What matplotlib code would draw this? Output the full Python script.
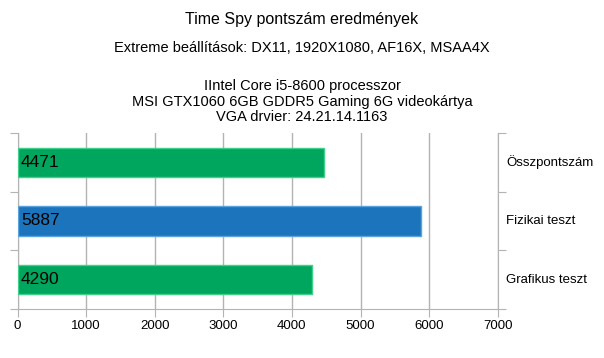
import matplotlib.pyplot as plt

plt.rcParams['font.family'] = ['Liberation Sans', 'DejaVu Sans']

categories = ['Grafikus teszt', 'Fizikai teszt', 'Összpontszám']
values = [4290, 5887, 4471]
colors = ['#00a65d', '#1c75bc', '#00a65d']
edges = ['#3fd08a', '#5aa3e0', '#3fd08a']
xticks = [0, 1000, 2000, 3000, 4000, 5000, 6000, 7000]

fig = plt.figure(figsize=(6.04, 3.58), dpi=100)
ax = fig.add_axes([0.029, 0.137, 0.795, 0.4915])

pos = range(len(categories))
ax.barh(pos, values, height=0.5, color=colors, edgecolor=edges, linewidth=1, zorder=3)
for p, v in zip(pos, values):
    ax.text(50, p, str(v), va='center', ha='left', fontsize=12.5, color='black', zorder=4)

ax.set_xlim(0, 7000)
ax.set_ylim(-0.5, 2.5)
ax.set_xticks(xticks)
ax.set_xticklabels([str(t) for t in xticks], fontsize=9.5)
ax.xaxis.grid(True, color='#b3b3b3', linewidth=1, zorder=0)

# category labels on the right, ticks at boundaries
ax.set_yticks([-0.5, 0.5, 1.5, 2.5])
ax.set_yticklabels([])
ax.tick_params(axis='y', length=6, color='#b3b3b3', left=True, right=True, direction='out')
ax.tick_params(axis='x', length=6, color='#b3b3b3', pad=2)
for p, c in zip(pos, categories):
    ax.text(1.018, (p + 0.5) / 3, c, transform=ax.transAxes, va='center', ha='left', fontsize=9.5)

ax.spines['top'].set_visible(False)
for side in ['left', 'bottom', 'right']:
    ax.spines[side].set_color('#b3b3b3')

fig.text(0.5, 0.945, 'Time Spy pontszám eredmények', ha='center', va='center', fontsize=11.5)
fig.text(0.5, 0.866, 'Extreme beállítások: DX11, 1920X1080, AF16X, MSAA4X', ha='center', va='center', fontsize=10.5)
fig.text(0.5, 0.716, 'IIntel Core i5-8600 processzor\nMSI GTX1060 6GB GDDR5 Gaming 6G videokártya\nVGA drvier: 24.21.14.1163',
         ha='center', va='center', fontsize=10.5, linespacing=1.12)

fig.savefig('out.png', dpi=100)
